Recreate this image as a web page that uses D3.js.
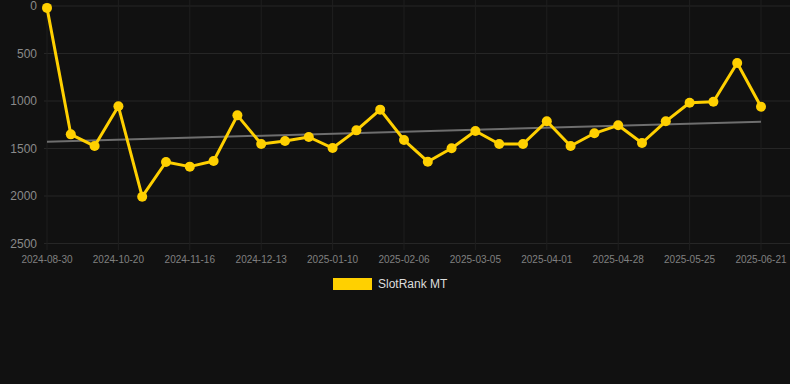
<!DOCTYPE html>
<html>
<head>
<meta charset="utf-8">
<script src="https://cdn.jsdelivr.net/npm/d3@7"></script>
<style>
  html, body { margin: 0; padding: 0; background: #111111; }
  svg { display: block; font-family: Arial, "Liberation Sans", sans-serif; }
</style>
</head>
<body>
<svg id="chart" width="790" height="384"></svg>
<script>
// rank data
const dates = [
    "2024-08-30", "2024-10-02", "2024-10-11", "2024-10-20", "2024-10-29", "2024-11-07",
    "2024-11-16", "2024-11-25", "2024-12-04", "2024-12-13", "2024-12-22", "2025-01-01",
    "2025-01-10", "2025-01-19", "2025-01-28", "2025-02-06", "2025-02-15", "2025-02-24",
    "2025-03-05", "2025-03-14", "2025-03-23", "2025-04-01", "2025-04-10", "2025-04-19",
    "2025-04-28", "2025-05-07", "2025-05-16", "2025-05-25", "2025-06-03", "2025-06-12",
    "2025-06-21"
];
const rank = [
    20, 1351, 1474, 1056, 2007, 1642, 1691, 1632, 1151, 1453, 1421,
    1379, 1495, 1309, 1091, 1411, 1639, 1498, 1316, 1453, 1453,
    1214, 1474, 1340, 1256, 1442, 1214, 1018, 1007, 600, 1060
];
const trend = [1428, 1218];
const yTicks = [0, 500, 1000, 1500, 2000, 2500];
const seriesName = "SlotRank MT";

const svg = d3.select("#chart");

const x = d3.scalePoint().domain(dates).range([47, 761]);
const y = d3.scaleLinear().domain([0, 2500]).range([6, 243.5]);

// grid
const xTicks = dates.filter((d, i) => i % 3 === 0);
svg.append("g")
    .selectAll("line")
    .data(yTicks)
    .join("line")
    .attr("x1", 44).attr("x2", 790)
    .attr("y1", d => y(d)).attr("y2", d => y(d))
    .attr("stroke", "#262626").attr("stroke-width", 1);
svg.append("g")
    .selectAll("line")
    .data(xTicks)
    .join("line")
    .attr("x1", d => x(d)).attr("x2", d => x(d))
    .attr("y1", 0).attr("y2", 250)
    .attr("stroke", "#1f1f1f").attr("stroke-width", 1);

// y axis labels
svg.append("g")
    .selectAll("text")
    .data(yTicks)
    .join("text")
    .attr("x", 37)
    .attr("y", d => y(d))
    .attr("dy", "0.35em")
    .attr("text-anchor", "end")
    .attr("fill", "#8a8a8a")
    .style("font-size", "12px")
    .text(d => d);

// x axis labels
svg.append("g")
    .selectAll("text")
    .data(xTicks)
    .join("text")
    .attr("x", d => x(d))
    .attr("y", 259)
    .attr("dy", "0.35em")
    .attr("text-anchor", "middle")
    .attr("fill", "#808080")
    .style("font-size", "10px")
    .text(d => d);

// trend line
svg.append("line")
    .attr("x1", x(dates[0])).attr("x2", x(dates[dates.length - 1]))
    .attr("y1", y(trend[0])).attr("y2", y(trend[1]))
    .attr("stroke", "#6e6e6e").attr("stroke-width", 2);

// series
const line = d3.line()
    .x((d, i) => x(dates[i]))
    .y(d => y(d));
svg.append("path")
    .datum(rank)
    .attr("d", line)
    .attr("fill", "none")
    .attr("stroke", "#ffd000")
    .attr("stroke-width", 3)
    .attr("stroke-linejoin", "round");
svg.append("g")
    .selectAll("circle")
    .data(rank)
    .join("circle")
    .attr("cx", (d, i) => x(dates[i]))
    .attr("cy", d => y(d))
    .attr("r", 5)
    .attr("fill", "#ffd000");

// legend
svg.append("rect")
    .attr("x", 333).attr("y", 278)
    .attr("width", 39).attr("height", 12)
    .attr("fill", "#ffd000");
svg.append("text")
    .attr("x", 378).attr("y", 284)
    .attr("dy", "0.35em")
    .attr("fill", "#dddddd")
    .style("font-size", "12px")
    .text(seriesName);
</script>
</body>
</html>
